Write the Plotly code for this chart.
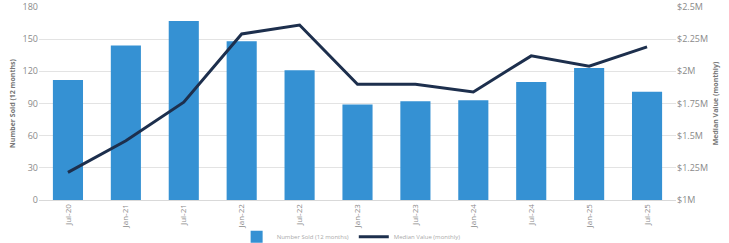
import plotly.graph_objects as go

categories = ["Jul-20", "Jan-21", "Jul-21", "Jan-22", "Jul-22", "Jan-23",
              "Jul-23", "Jan-24", "Jul-24", "Jan-25", "Jul-25"]
number_sold = [112, 144, 167, 148, 121, 89, 92, 93, 110, 123, 101]
median_value = [1.215e6, 1.46e6, 1.76e6, 2.29e6, 2.36e6, 1.90e6,
                1.90e6, 1.84e6, 2.12e6, 2.04e6, 2.19e6]
left_ticks = [0, 30, 60, 90, 120, 150, 180]
right_tickvals = [1.0e6, 1.25e6, 1.5e6, 1.75e6, 2.0e6, 2.25e6, 2.5e6]
right_ticktext = ["$1M", "$1.25M", "$1.5M", "$1.75M", "$2M", "$2.25M", "$2.5M"]

font_family = "Open Sans, DejaVu Sans, sans-serif"
grey = "#8a8a8a"

fig = go.Figure()
fig.add_trace(go.Bar(
    x=categories, y=number_sold, name="Number Sold (12 months)",
    marker=dict(color="#3591d3", line=dict(width=0)), width=0.52,
    yaxis="y",
))
fig.add_trace(go.Scatter(
    x=categories, y=median_value, name="Median Value (monthly)",
    mode="lines", line=dict(color="#1d2f4d", width=3), yaxis="y2",
))

fig.update_layout(
    width=729, height=243,
    margin=dict(l=39, r=53, t=7, b=43, autoexpand=False),
    paper_bgcolor="white", plot_bgcolor="white",
    font=dict(family=font_family, size=9, color=grey),
    showlegend=True,
    legend=dict(orientation="h", x=0.49, xanchor="center", y=-0.19, yanchor="middle",
                font=dict(size=6, color="#aaaaaa"), itemwidth=30,
                bgcolor="rgba(0,0,0,0)"),
    xaxis=dict(tickangle=-90, showgrid=False, showline=True, linecolor="#d9d9d9",
               linewidth=1, ticks="", tickfont=dict(size=8, color=grey),
               automargin=False),
    yaxis=dict(range=[0, 180], tickvals=left_ticks, showgrid=True,
               gridcolor="#e3e3e3", gridwidth=1, zeroline=False,
               tickfont=dict(size=9, color=grey), automargin=False,
               ticklabeloverflow="allow",
               title=dict(text="<b>Number Sold (12 months)</b>", standoff=6,
                          font=dict(size=7, color="#777777"))),
    yaxis2=dict(range=[1.0e6, 2.5e6], tickvals=right_tickvals, ticktext=right_ticktext,
                overlaying="y", side="right", showgrid=False, zeroline=False,
                tickfont=dict(size=9, color=grey), automargin=False,
                ticklabeloverflow="allow",
                title=dict(text="<b>Median Value (monthly)</b>", standoff=6,
                           font=dict(size=7, color="#777777"))),
    bargap=0.48,
)

fig.write_html("out.html")
